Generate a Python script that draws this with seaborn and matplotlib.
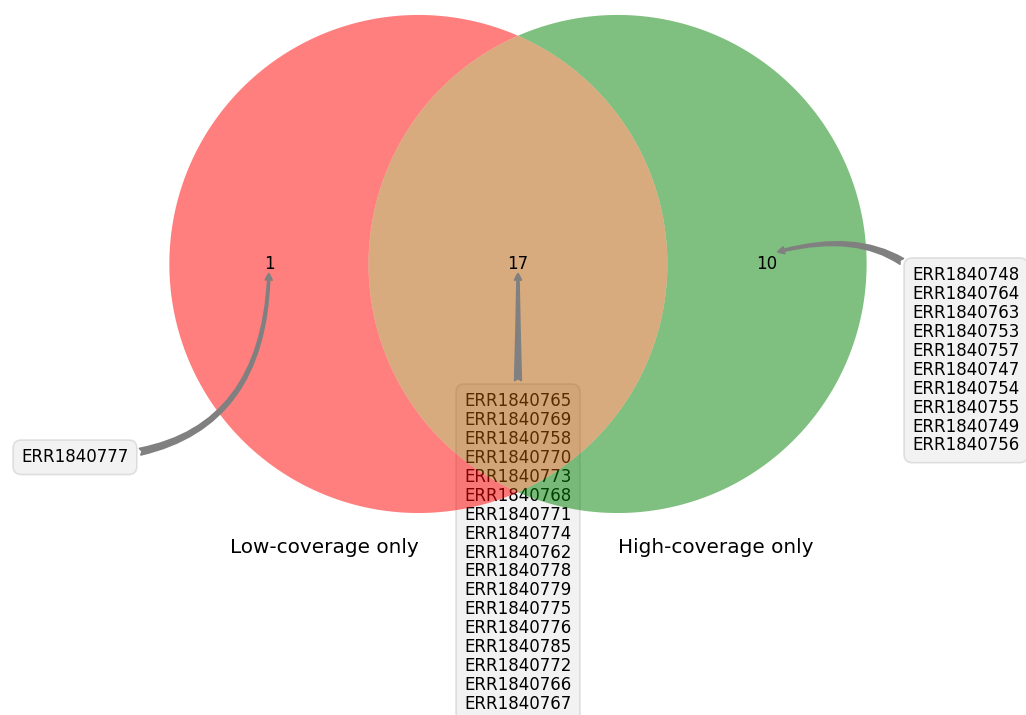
import numpy as np
import matplotlib
matplotlib.use("Agg")
import matplotlib.pyplot as plt
from matplotlib.patches import Polygon
import seaborn as sns

# ---- data -------------------------------------------------------------
set_labels = ["Low-coverage only", "High-coverage only"]
low_only_runs = ["ERR1840777"]
shared_runs = [
    "ERR1840765", "ERR1840769", "ERR1840758", "ERR1840770", "ERR1840773",
    "ERR1840768", "ERR1840771", "ERR1840774", "ERR1840762", "ERR1840778",
    "ERR1840779", "ERR1840775", "ERR1840776", "ERR1840785", "ERR1840772",
    "ERR1840766", "ERR1840767",
]
high_only_runs = [
    "ERR1840748", "ERR1840764", "ERR1840763", "ERR1840753", "ERR1840757",
    "ERR1840747", "ERR1840754", "ERR1840755", "ERR1840749", "ERR1840756",
]

# ---- style ------------------------------------------------------------
sns.set_style("white", rc={"text.color": "black", "patch.edgecolor": "black"})
plt.rcParams["font.family"] = ["DejaVu Sans"]
plt.rcParams["font.size"] = 10

set_colors = [(1.0, 0.0, 0.0), (0.0, 0.5, 0.0)]
mix_color = tuple(min(1.0, 0.7 * (a + b)) for a, b in zip(*set_colors))
alpha = 0.5

# unweighted two-circle layout (equal circles, lens = half a circle)
R = 1.0
D = 0.8
cl = np.array([-D / 2, 0.0])
cr = np.array([D / 2, 0.0])
a = np.arccos((D / 2) / R)


def arc(center, t0, t1, n=200):
    t = np.linspace(t0, t1, n)
    return np.column_stack([center[0] + R * np.cos(t), center[1] + R * np.sin(t)])


left_only = np.vstack([arc(cl, a, 2 * np.pi - a), arc(cr, np.pi + a, np.pi - a)])
right_only = np.vstack([arc(cr, np.pi - a, -np.pi + a), arc(cl, -a, a)])
lens = np.vstack([arc(cl, -a, a), arc(cr, np.pi - a, np.pi + a)])

fig = plt.figure(figsize=(1026 / 120, 715 / 120), dpi=120)
ax = fig.add_axes([0, 0, 1, 1])
ax.set_xlim(-2.080, 2.040)
ax.set_ylim(-1.811, 1.060)
ax.axis("off")

for verts, col in [(left_only, set_colors[0]), (right_only, set_colors[1]), (lens, mix_color)]:
    ax.add_patch(Polygon(verts, closed=True, facecolor=col, edgecolor="none",
                         alpha=alpha, zorder=1))

# region counts, centred in each region
pos_a = (((cl[0] - R) + (cr[0] - R)) / 2, 0.0)
pos_b = (((cr[0] + R) + (cl[0] + R)) / 2, 0.0)
pos_ab = (0.0, 0.0)
for pos, runs in [(pos_a, low_only_runs), (pos_ab, shared_runs), (pos_b, high_only_runs)]:
    ax.text(pos[0], pos[1], str(len(runs)), ha="center", va="center",
            fontsize=10, zorder=4)

# set labels under each circle
ax.text(cl[0], -R - 0.1, set_labels[0], ha="right", va="top", fontsize="large", zorder=4)
ax.text(cr[0], -R - 0.1, set_labels[1], ha="left", va="top", fontsize="large", zorder=4)


def annotate_region(runs, xy, xytext, rad):
    text = "\n".join(runs)
    common = dict(xy=xy, xytext=xytext, ha="center", va="top", linespacing=1.065)
    # boxed list of run accessions, sitting beneath the circles
    ax.annotate(text, zorder=0.5,
                bbox=dict(boxstyle="round,pad=0.5", fc="gray", ec="black", alpha=0.1),
                **common)
    # arrow from the box to the region count, drawn above the circles
    ax.annotate(text, color="none", zorder=3,
                bbox=dict(boxstyle="round,pad=0.5", fc="none", ec="none"),
                arrowprops=dict(arrowstyle="fancy",
                                connectionstyle=f"arc3,rad={rad}", color="gray"),
                **common)


annotate_region(low_only_runs, (pos_a[0], pos_a[1] - 0.025), (-1.779, -0.740), 0.5)
annotate_region(shared_runs, (pos_ab[0], pos_ab[1] - 0.025), (0.0, -0.515), 0.0)
annotate_region(high_only_runs, (pos_b[0] + 0.03, pos_b[1] + 0.045), (1.799, -0.009), 0.5)

fig.savefig("out.png", dpi=120)
